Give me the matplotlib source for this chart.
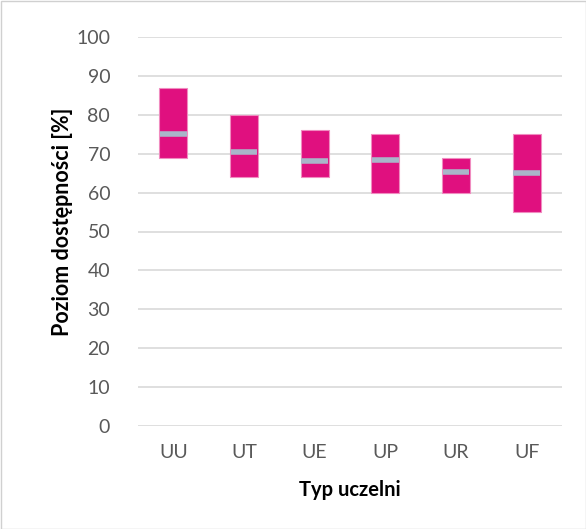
import matplotlib
matplotlib.use("Agg")
import matplotlib.pyplot as plt
from matplotlib.patches import Rectangle

categories = ["UU", "UT", "UE", "UP", "UR", "UF"]
mins = [69, 64, 64, 60, 60, 55]
maxs = [87, 80, 76, 75, 69, 75]
medians = [75, 70.5, 68, 68.5, 65.3, 65]
yticks = [0, 10, 20, 30, 40, 50, 60, 70, 80, 90, 100]

plt.rcParams['font.family'] = ['Lato', 'DejaVu Sans']

fig = plt.figure(figsize=(5.86, 5.29), dpi=100)
ax = fig.add_axes([138/586, 1 - 426/529, (562-138)/586, (426-37)/529])

x = list(range(len(categories)))
heights = [mx - mn for mn, mx in zip(mins, maxs)]
ax.bar(x, heights, bottom=mins, width=0.4, color="#E0107F",
       edgecolor="#F08CC0", linewidth=0.8, zorder=3)
ax.hlines(medians, [i - 0.19 for i in x], [i + 0.19 for i in x],
          colors="#A9B6C9", linewidth=4, zorder=4)

ax.set_xlim(-0.5, len(categories) - 0.5)
ax.set_ylim(0, 100)
ax.set_yticks(yticks)
ax.set_xticks(x)
ax.set_xticklabels(categories)
ax.tick_params(axis='both', length=0, labelsize=14, colors="#595959")
ax.tick_params(axis='y', pad=20)
ax.tick_params(axis='x', pad=13)
ax.grid(axis='y', color="#D9D9D9", linewidth=1.2, zorder=0)
for s in ax.spines.values():
    s.set_visible(False)

ax.set_ylabel("Poziom dostępności [%]", fontsize=15.5, fontweight='bold',
              color="black", labelpad=2)
ax.yaxis.label.set_y(0.525)
ax.set_xlabel("Typ uczelni", fontsize=14.5, fontweight='bold',
              color="black", labelpad=14)

fig.patches.append(Rectangle((0.5/586, 0.5/529), 1 - 1/586, 1 - 1/529,
                             transform=fig.transFigure, fill=False,
                             edgecolor="#D0D0D0", linewidth=1))

fig.savefig("out.png", dpi=100)
